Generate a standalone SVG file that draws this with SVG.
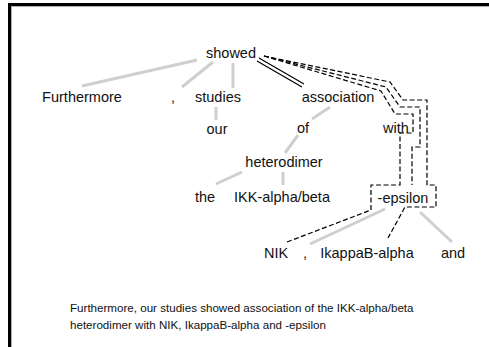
<svg xmlns="http://www.w3.org/2000/svg" width="489" height="347" viewBox="0 0 489 347">
<style>
text{font-family:"Liberation Sans",Arial,sans-serif;font-size:14.5px;fill:#111;text-anchor:middle}
.cap{font-size:11.6px;text-anchor:start}
.g{stroke:#cfcfcf;stroke-width:3;fill:none}
.d{stroke:#000;stroke-width:1.2;fill:none;stroke-dasharray:5 2.5}
.s{stroke:#000;stroke-width:1.2;fill:none}
</style>
<rect width="489" height="347" fill="#fff"/>
<path d="M9.5,347V4.5H489" fill="none" stroke="#000" stroke-width="3"/>
<path d="M11.5,347V6.5H489" fill="none" stroke="#999" stroke-width="0.8"/>
<g id="connectors">
<path class="g" d="M197,60L82,86"/>
<path class="g" d="M213,62L182,87"/>
<path class="g" d="M233,63L233,88"/>
<path class="g" d="M216,107L216,120"/>
<path class="g" d="M330,107L312,119"/>
<path class="g" d="M298,135L285,153"/>
<path class="g" d="M242,172L216,184"/>
<path class="g" d="M283,172L283,185"/>
<path class="g" d="M385,209L310,244"/>
<path class="g" d="M420,212L452,242"/>
<path class="s" d="M257,61L302,87M259,58L304,84"/>
<path class="d" d="M264,56L390,82L403,100L427,100L427,185L436,185L436,207L405,207L388,238"/>
<path class="d" d="M264,56L386,87L400,107L420,107L420,147L412,147L412,185"/>
<path class="d" d="M264,56L381,91L395,114L413,114L413,133L400,133L400,185L371,185L371,210L287,242"/>
</g>
<g id="n-showed"><text x="231" y="58">showed</text></g>
<g id="n-furthermore"><text x="82" y="102">Furthermore</text></g>
<g id="n-comma1"><text x="173" y="102">,</text></g>
<g id="n-studies"><text x="218" y="102">studies</text></g>
<g id="n-association"><text x="338" y="102">association</text></g>
<g id="n-our"><text x="217" y="134">our</text></g>
<g id="n-of"><text x="303" y="133">of</text></g>
<g id="n-with"><text x="396" y="133">with</text></g>
<g id="n-heterodimer"><text x="284" y="167">heterodimer</text></g>
<g id="n-the"><text x="205" y="202">the</text></g>
<g id="n-ikk"><text x="282" y="202">IKK-alpha/beta</text></g>
<g id="n-epsilon"><text x="403" y="203">-epsilon</text></g>
<g id="n-nik"><text x="276" y="258">NIK</text></g>
<g id="n-comma2"><text x="305" y="258">,</text></g>
<g id="n-ikappab"><text x="367" y="258">IkappaB-alpha</text></g>
<g id="n-and"><text x="453" y="258">and</text></g>
<g id="caption">
<text class="cap" x="70" y="312">Furthermore, our studies showed association of the IKK-alpha/beta</text>
<text class="cap" x="70" y="329">heterodimer with NIK, IkappaB-alpha and -epsilon</text>
</g>
</svg>
